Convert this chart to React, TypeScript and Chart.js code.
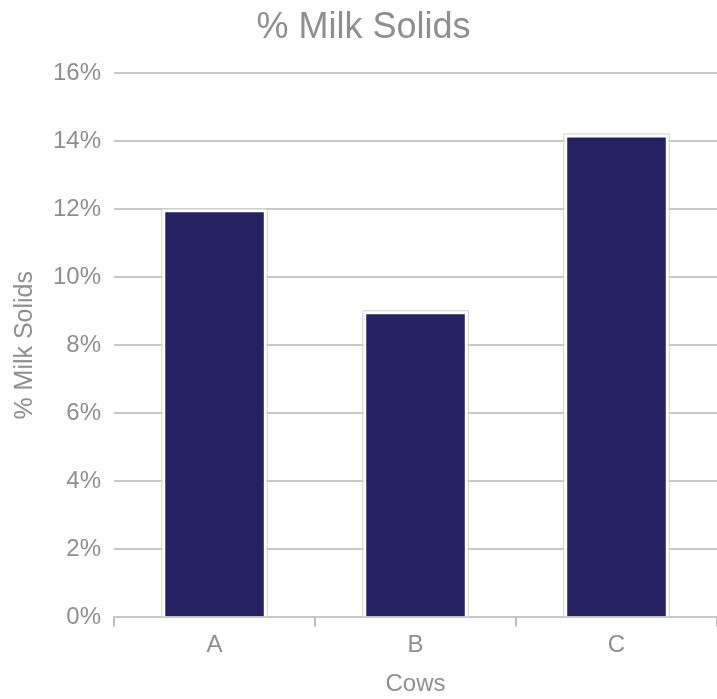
import React, { useEffect, useRef } from "react";
import { Chart, registerables } from "chart.js";

Chart.register(...registerables);

const categories = ["A", "B", "C"];
const milkSolids = [12, 9, 14.2];
const chartTitle = "% Milk Solids";
const xTitle = "Cows";
const yTitle = "% Milk Solids";

const outlinePlugin = {
  id: "barOutline",
  afterDatasetsDraw(chart: any) {
    const ctx = chart.ctx;
    const meta = chart.getDatasetMeta(0);
    ctx.save();
    ctx.strokeStyle = "#d2d2d2";
    ctx.lineWidth = 1;
    meta.data.forEach((bar: any) => {
      const p = bar.getProps(["x", "y", "base", "width"], true);
      const left = p.x - p.width / 2;
      ctx.strokeRect(left - 0.5, p.y - 0.5, p.width + 1, p.base - p.y + 1);
    });
    ctx.restore();
  },
};

export default function App() {
  const ref = useRef<HTMLCanvasElement>(null);
  useEffect(() => {
    document.body.style.margin = "0";
    const grey = "#8f8f8f";
    const font = "'Liberation Sans', Arial, sans-serif";
    const chart = new Chart(ref.current!, {
      type: "bar",
      data: {
        labels: categories,
        datasets: [
          {
            data: milkSolids,
            backgroundColor: "#262262",
            borderColor: "#ffffff",
            borderWidth: 3,
            barPercentage: 0.65,
            categoryPercentage: 0.8,
          },
        ],
      },
      options: {
        animation: false,
        responsive: true,
        maintainAspectRatio: false,
        layout: { padding: { top: 0, right: 0, bottom: 0, left: 10 } },
        plugins: {
          legend: { display: false },
          tooltip: { enabled: false },
          title: {
            display: true,
            text: chartTitle,
            color: grey,
            font: { family: font, size: 36, weight: "normal" },
            padding: { top: 6, bottom: 24 },
          },
        },
        scales: {
          x: {
            offset: true,
            grid: {
              display: true,
              offset: true,
              drawOnChartArea: false,
              drawTicks: true,
              tickLength: 9,
              color: "#bdbdbd",
              lineWidth: 2,
            },
            border: { display: true, color: "#c8c8c8", width: 2 },
            ticks: { color: grey, font: { family: font, size: 24 }, padding: 5 },
            title: {
              display: true,
              text: xTitle,
              color: grey,
              font: { family: font, size: 24 },
              padding: { top: 5, bottom: 0 },
            },
          },
          y: {
            min: 0,
            max: 16,
            ticks: {
              stepSize: 2,
              color: grey,
              font: { family: font, size: 24 },
              padding: 13,
              callback: (v: any) => v + "%",
            },
            grid: { color: "#c8c8c8", lineWidth: 2, drawTicks: false },
            border: { display: false },
            title: {
              display: true,
              text: yTitle,
              color: grey,
              font: { family: font, size: 25 },
              padding: { top: 0, bottom: 0 },
            },
          },
        },
      },
      plugins: [outlinePlugin],
    });
    return () => chart.destroy();
  }, []);
  return (
    <div style={{ width: 717, height: 699, position: "relative" }}>
      <canvas ref={ref} />
    </div>
  );
}
